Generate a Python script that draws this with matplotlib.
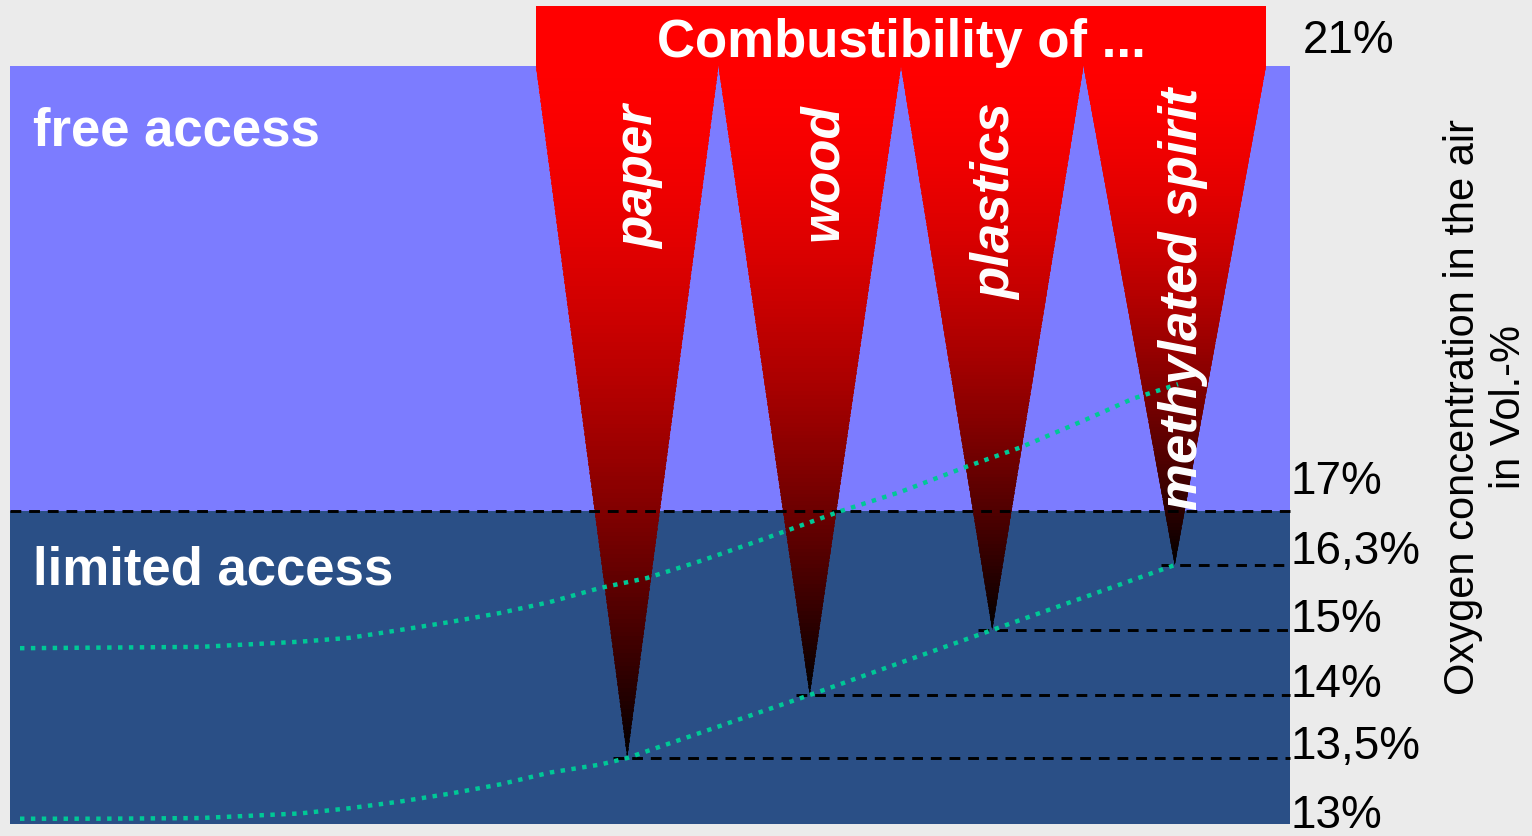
import numpy as np
import matplotlib.pyplot as plt
from matplotlib.patches import Polygon, Rectangle
from matplotlib.collections import PolyCollection
import matplotlib.transforms as mtransforms

plt.rcParams['font.family'] = ['Liberation Sans', 'DejaVu Sans']

# data
materials = ['paper', 'wood', 'plastics', 'methylated spirit']
min_o2 = [13.5, 14, 15, 16.3]          # lowest O2 level where it still burns
free_limit = 17
air_o2 = 21
levels = [21, 17, 16.3, 15, 14, 13.5, 13]
level_labels = ['21%', '17%', '16,3%', '15%', '14%', '13,5%', '13%']

# dotted curves (x in picture units, y in Vol.-% O2)
lower_x = [20, 100, 200, 300, 350, 400, 450, 500, 550, 600]
lower_o2 = [13.04, 13.04, 13.045, 13.08, 13.12, 13.17, 13.23, 13.30, 13.39, 13.45]
upper_x = [20, 200, 300, 350, 400, 450, 500, 550, 600, 647, 700, 760, 841,
           900, 967, 1020, 1083, 1133, 1178]
upper_o2 = [14.72, 14.74, 14.82, 14.88, 15.0, 15.16, 15.34, 15.56, 15.84, 16.04,
            16.35, 16.62, 17.0, 17.17, 17.40, 17.57, 17.81, 18.01, 18.14]

W, H = 1532, 837
light_blue = '#7c7cff'
dark_blue = '#2a4f86'
teal = '#00c896'

# schematic (non linear) oxygen axis
scale_lv = [12, 13, 13.5, 14, 15, 16.3, 17, 21, 25]
scale_px = np.array([957, 825, 759, 696, 631, 566, 512, 67, -378])

def fwd(v):
    return np.interp(v, scale_lv, -scale_px)

def inv(s):
    return np.interp(s, -scale_px, scale_lv)

fig = plt.figure(figsize=(W / 100, H / 100), dpi=100, facecolor='#ebebeb')
ax = fig.add_axes([0, 0, 1, 1])
ax.set_yscale('function', functions=(fwd, inv))
ax.set_xlim(0, W)
ax.set_ylim(inv(-H), inv(0))
ax.axis('off')

# pixel transform (origin top left) for text placement
pix = mtransforms.Affine2D().scale(1 / W, -1 / H).translate(0, 1) + fig.transFigure

panel_l, panel_r = 10, 1290
ax.axhspan(free_limit, air_o2, xmin=panel_l / W, xmax=panel_r / W, color=light_blue, lw=0, zorder=1)
ax.axhspan(min(levels), free_limit, xmin=panel_l / W, xmax=panel_r / W, color=dark_blue, lw=0, zorder=1)

slot_x0, slot_w = 536, 182.5
top_ext = inv(-7)
ax.add_patch(Rectangle((slot_x0, air_o2), slot_w * len(materials), top_ext - air_o2,
                       color='#ff0000', lw=0, zorder=2))

tips = []
for i, o2 in enumerate(min_o2):
    xl = slot_x0 + i * slot_w
    xr = xl + slot_w
    xt = xl + slot_w / 2
    tips.append(xt)
    tri = Polygon([(xl, air_o2), (xr, air_o2), (xt, o2)], closed=True,
                  transform=ax.transData)
    top_px = -fwd(air_o2)
    tip_px = -fwd(o2)
    n = 160
    edges = inv(-np.linspace(top_px, tip_px, n + 1))
    verts, cols = [], []
    for k in range(n):
        f = (k + 0.5) / n
        b = 1 - f ** 1.6
        verts.append([(xl, edges[k]), (xr, edges[k]), (xr, edges[k + 1]), (xl, edges[k + 1])])
        cols.append((b, 0, 0))
    pc = PolyCollection(verts, facecolors=cols, edgecolors=cols, linewidths=0.8,
                        antialiased=False, zorder=3)
    ax.add_collection(pc)
    pc.set_clip_path(tri)

# dashed level lines
ax.plot([panel_l, panel_r], [free_limit, free_limit], color='black', lw=2.1,
        dashes=(3.7, 2.7), zorder=4)
for xt, o2 in zip(tips, min_o2):
    ax.plot([xt - 14, panel_r], [o2, o2], color='black', lw=2.1,
            dashes=(3.7, 2.7), zorder=4)

# dotted curves
ax.plot(lower_x + tips, lower_o2 + min_o2, color=teal, lw=3.2, dashes=(1, 1.45),
        dash_capstyle='butt', zorder=5)
ax.plot(upper_x, upper_o2, color=teal, lw=3.2, dashes=(1, 1.45),
        dash_capstyle='butt', zorder=5)

# texts
fig.text(33, 146, 'free access', transform=pix, color='white', fontsize=38,
         fontweight='bold', va='baseline', ha='left')
fig.text(33, 585, 'limited access', transform=pix, color='white', fontsize=38,
         fontweight='bold', va='baseline', ha='left')
fig.text(901, 57, 'Combustibility of ...', transform=pix, color='white', fontsize=38,
         fontweight='bold', va='baseline', ha='center')

label_pos = [(653, 105), (837, 103), (1010, 103), (1197, 88)]
for name, (lx, ly) in zip(materials, label_pos):
    fig.text(lx, ly, name, transform=pix, color='white', fontsize=38,
             fontweight='bold', fontstyle='italic', rotation=90,
             rotation_mode='anchor', ha='right', va='baseline', zorder=6)

label_x = [1303, 1291, 1291, 1291, 1291, 1291, 1291]
label_dy = [-14, -18, -2, 1, 1, 0, 3]
for lv, lab, lx, dy in zip(levels, level_labels, label_x, label_dy):
    ax.annotate(lab, xy=(lx, lv), xytext=(0, -dy), textcoords='offset pixels',
                fontsize=33, va='baseline', ha='left', color='black',
                annotation_clip=False)

fig.text(1486, 407, 'Oxygen concentration in the air\nin Vol.-%', transform=pix,
         fontsize=30, rotation=90, ha='center', va='center', multialignment='center')

fig.savefig('out.png', dpi=100, facecolor=fig.get_facecolor())
